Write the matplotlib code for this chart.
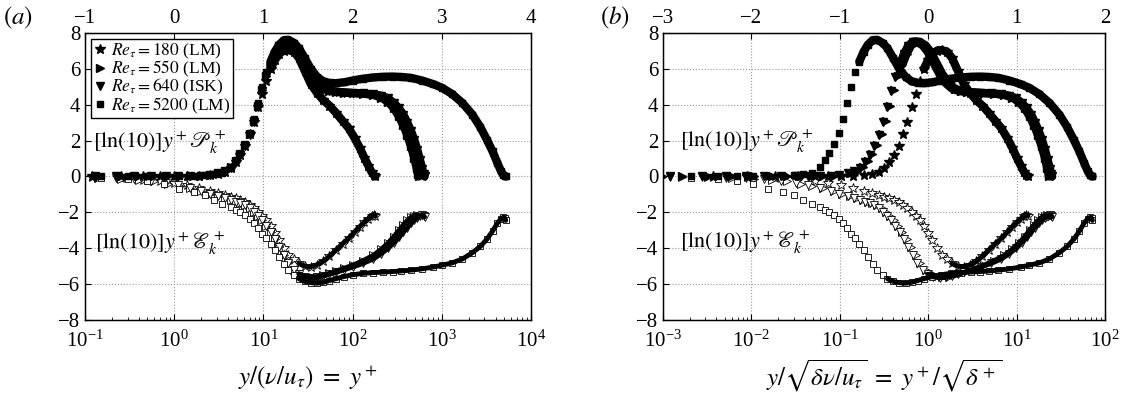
import matplotlib
matplotlib.use("Agg")
import matplotlib.pyplot as plt
import numpy as np

plt.rcParams['font.family'] = ['Liberation Serif', 'DejaVu Serif']
plt.rcParams['mathtext.fontset'] = 'stix'

# Re_tau of each case and legend text
re_tau = [180, 550, 640, 5200]
labels = [r'$Re_\tau = 180$ (LM)', r'$Re_\tau = 550$ (LM)',
          r'$Re_\tau = 640$ (ISK)', r'$Re_\tau = 5200$ (LM)']
markers = ['*', '>', 'v', 's']
msizes = [7.5, 5.5, 5.5, 4.5]

# Re_tau = 180
yp_180 = [0.05, 0.12, 0.25, 0.45, 0.7, 1.0, 1.4, 1.9, 2.5, 3.1, 3.7, 4.3, 4.9, 5.5,
          6.2, 7.0, 7.8, 8.7, 9.7, 10.8, 12, 13.4, 15, 17, 19, 22, 25, 29, 34, 40,
          47, 55, 65, 77, 90, 105, 120, 135, 150, 163, 173, 180]
prod_180 = [0, 0, 0, 0, 0, 0, 0.01, 0.03, 0.07, 0.14, 0.27, 0.45, 0.8, 1.2,
            1.7, 2.35, 3.05, 3.85, 4.6, 5.3, 6.0, 6.5, 6.85, 7.02, 7.05, 6.95, 6.6, 5.9, 5.15, 4.65,
            4.25, 3.95, 3.55, 3.1, 2.7, 2.15, 1.6, 1.05, 0.6, 0.25, 0.07, 0.0]
diss_180 = [-0.02, -0.045, -0.09, -0.17, -0.26, -0.37, -0.5, -0.65, -0.8, -0.92, -1.02, -1.12, -1.22, -1.32,
            -1.45, -1.6, -1.75, -1.98, -2.2, -2.45, -2.75, -3.15, -3.55, -4.0, -4.35, -4.6, -4.85, -5.0, -5.03, -4.92,
            -4.72, -4.45, -4.1, -3.75, -3.45, -3.1, -2.8, -2.55, -2.35, -2.2, -2.12, -2.2]

# Re_tau = 550
yp_550 = [0.023, 0.038, 0.075, 0.14, 0.25, 0.4, 0.6, 0.85, 1.15, 1.5, 2.0, 2.5, 3.1, 3.7,
          4.3, 4.9, 5.5, 6.2, 7.0, 7.8, 8.7, 9.7, 10.8, 12, 13.4, 15, 17, 19, 22, 25,
          29, 34, 40, 47, 55, 65, 80, 100, 130, 170, 210, 250, 290, 330, 370, 410,
          450, 490, 520, 540, 550]
prod_550 = [0, 0, 0, 0, 0, 0, 0, 0, 0.01, 0.02, 0.05, 0.1, 0.19, 0.3,
            0.52, 0.85, 1.25, 1.75, 2.35, 3.1, 3.95, 4.8, 5.6, 6.25, 6.85, 7.3, 7.52, 7.5, 7.3, 6.95,
            6.35, 5.7, 5.2, 4.9, 4.78, 4.72, 4.68, 4.65, 4.62, 4.55, 4.4, 4.15, 3.8, 3.35, 2.85, 2.3,
            1.7, 1.05, 0.5, 0.15, 0.0]
diss_550 = [-0.01, -0.02, -0.035, -0.065, -0.12, -0.19, -0.28, -0.4, -0.52, -0.65, -0.82, -0.95, -1.08, -1.2,
            -1.3, -1.4, -1.48, -1.6, -1.78, -1.98, -2.2, -2.45, -2.75, -3.1, -3.5, -3.95, -4.4, -4.8, -5.2, -5.42,
            -5.55, -5.6, -5.58, -5.5, -5.4, -5.28, -5.12, -4.95, -4.7, -4.4, -4.05, -3.7, -3.35, -3.0, -2.7, -2.45,
            -2.28, -2.18, -2.15, -2.18, -2.25]

# Re_tau = 640
yp_640 = [0.03, 0.07, 0.13, 0.22, 0.35, 0.55, 0.8, 1.1, 1.5, 2.0, 2.5, 3.1, 3.7, 4.3,
          4.9, 5.5, 6.2, 7.0, 7.8, 8.7, 9.7, 10.8, 12, 13.4, 15, 17, 19, 22, 25, 29,
          34, 40, 47, 55, 65, 80, 100, 130, 170, 210, 250, 290, 330, 370, 410, 450,
          490, 530, 570, 605, 625, 640]
prod_640 = [0, 0, 0, 0, 0, 0, 0, 0.01, 0.02, 0.05, 0.1, 0.19, 0.3, 0.5,
            0.82, 1.22, 1.72, 2.3, 3.05, 3.9, 4.75, 5.55, 6.2, 6.8, 7.28, 7.52, 7.5, 7.3, 6.95, 6.35,
            5.7, 5.2, 4.9, 4.78, 4.72, 4.68, 4.65, 4.63, 4.58, 4.5, 4.35, 4.1, 3.8, 3.45, 3.0, 2.55,
            2.05, 1.5, 0.9, 0.4, 0.12, 0.0]
diss_640 = [-0.012, -0.03, -0.06, -0.1, -0.16, -0.26, -0.37, -0.5, -0.65, -0.82, -0.95, -1.08, -1.2, -1.3,
            -1.4, -1.48, -1.6, -1.78, -1.98, -2.2, -2.45, -2.75, -3.1, -3.5, -3.95, -4.4, -4.8, -5.2, -5.45, -5.6,
            -5.65, -5.63, -5.55, -5.45, -5.35, -5.2, -5.05, -4.85, -4.6, -4.3, -4.0, -3.7, -3.4, -3.1, -2.85, -2.62,
            -2.45, -2.3, -2.2, -2.15, -2.18, -2.25]

# Re_tau = 5200
yp_5200 = [0.05, 0.15, 0.3, 0.5, 0.76, 1.12, 1.65, 2.19, 2.79, 3.47, 4.3, 4.9, 5.5, 6.2,
           7.0, 7.8, 8.7, 9.7, 10.8, 12, 13.4, 15, 17, 19, 22, 25, 29, 34, 40, 47,
           55, 65, 80, 100, 130, 170, 220, 280, 350, 450, 600, 800, 1000, 1300, 1700, 2200,
           2700, 3200, 3700, 4200, 4600, 4900, 5100, 5200]
prod_5200 = [0, 0, 0, 0, 0, 0.01, 0.03, 0.06, 0.12, 0.22, 0.55, 0.9, 1.3, 1.8,
             2.4, 3.2, 4.1, 5.0, 5.8, 6.4, 6.95, 7.35, 7.6, 7.62, 7.45, 7.15, 6.6, 6.0, 5.55, 5.3,
             5.22, 5.2, 5.25, 5.35, 5.45, 5.52, 5.56, 5.57, 5.55, 5.5, 5.35, 5.15, 4.95, 4.6, 4.1, 3.45,
             2.75, 2.05, 1.4, 0.75, 0.3, 0.08, 0.02, 0.0]
diss_5200 = [-0.03, -0.08, -0.16, -0.27, -0.4, -0.68, -0.87, -1.05, -1.33, -1.51, -1.7, -1.85, -2.0, -2.15,
             -2.35, -2.6, -2.9, -3.2, -3.45, -3.75, -4.1, -4.5, -4.9, -5.2, -5.5, -5.7, -5.85, -5.92, -5.95, -5.9,
             -5.8, -5.7, -5.58, -5.48, -5.4, -5.36, -5.33, -5.3, -5.27, -5.22, -5.15, -5.05, -4.95, -4.82, -4.6, -4.25,
             -3.9, -3.5, -3.05, -2.6, -2.35, -2.28, -2.33, -2.45]

yplus = [yp_180, yp_550, yp_640, yp_5200]
prod = [prod_180, prod_550, prod_640, prod_5200]
diss = [diss_180, diss_550, diss_640, diss_5200]

fig = plt.figure(figsize=(11.22, 4.07), dpi=100)
axL = fig.add_axes([0.0758, 0.2138, 0.3975, 0.7052])
axR = fig.add_axes([0.5909, 0.2138, 0.3939, 0.7052])


def draw(ax, outer):
    for i in range(4):
        yp = np.array(yplus[i], dtype=float)
        x = yp / np.sqrt(re_tau[i]) if outer else yp
        p = np.array(prod[i])
        e = np.array(diss[i])
        m1 = yp >= 12
        m2 = yp >= 25
        ax.plot(x[m1], p[m1], '-', color='k', lw=6, solid_capstyle='round', zorder=3)
        ax.plot(x[m2], e[m2], '-', color='k', lw=3.5, solid_capstyle='round', zorder=2.6)
        ax.plot(x, p, ls='none', marker=markers[i], ms=msizes[i], color='k', zorder=4)
        ax.plot(x, e, ls='none', marker=markers[i], ms=msizes[i], mfc='white', mec='k',
                mew=0.6, zorder=2.5)
    ax.set_xscale('log')
    ax.set_ylim(-8, 8)
    ax.set_yticks(range(-8, 9, 2))
    ax.grid(True, which='major', ls=':', color='0.6', lw=0.8)
    ax.tick_params(which='both', direction='in', labelsize=15, top=False)
    ax.tick_params(axis='x', which='major', pad=8)
    ax.tick_params(which='major', length=4)
    ax.tick_params(which='minor', length=2.5)
    for s in ax.spines.values():
        s.set_linewidth(1.0)


draw(axL, False)
draw(axR, True)

axL.set_xlim(1e-1, 1e4)
axR.set_xlim(1e-3, 1e2)

for ax, lo, hi in [(axL, -1, 4), (axR, -3, 2)]:
    top = ax.twiny()
    top.set_xlim(lo, hi)
    top.set_xticks(range(lo, hi + 1))
    top.tick_params(direction='in', labelsize=15, length=4)

axL.set_xlabel(r'$y/(\nu/u_\tau)\ =\ y^+$', fontsize=18, labelpad=8)
axR.set_xlabel(r'$y/\sqrt{\delta\nu/u_\tau}\ =\ y^+/\sqrt{\delta^+}$', fontsize=18, labelpad=4)

axL.text(0.122, 1.9, r'$[\ln(10)]y^+\mathscr{P}_k^+$', fontsize=16, va='center')
axL.text(0.13, -3.75, r'$[\ln(10)]y^+\mathscr{E}_k^+$', fontsize=16, va='center')
axR.text(0.00155, 1.95, r'$[\ln(10)]y^+\mathscr{P}_k^+$', fontsize=16, va='center')
axR.text(0.00155, -3.7, r'$[\ln(10)]y^+\mathscr{E}_k^+$', fontsize=16, va='center')

handles = [plt.Line2D([], [], ls='none', marker=markers[i], ms=msizes[i], color='k') for i in range(4)]
leg = axL.legend(handles, labels, loc='upper left', bbox_to_anchor=(0.006, 0.99),
                 fontsize=12.5, frameon=True, fancybox=False, framealpha=1,
                 edgecolor='k', handlelength=0.7, handletextpad=0.3,
                 labelspacing=-0.12, borderpad=0.15, borderaxespad=0.2)
leg.get_frame().set_linewidth(1.0)
leg.set_zorder(10)

fig.text(0.003, 0.955, r'$(a)$', fontsize=18, va='center')
fig.text(0.535, 0.955, r'$(b)$', fontsize=18, va='center')

fig.savefig('out.png', dpi=100)
